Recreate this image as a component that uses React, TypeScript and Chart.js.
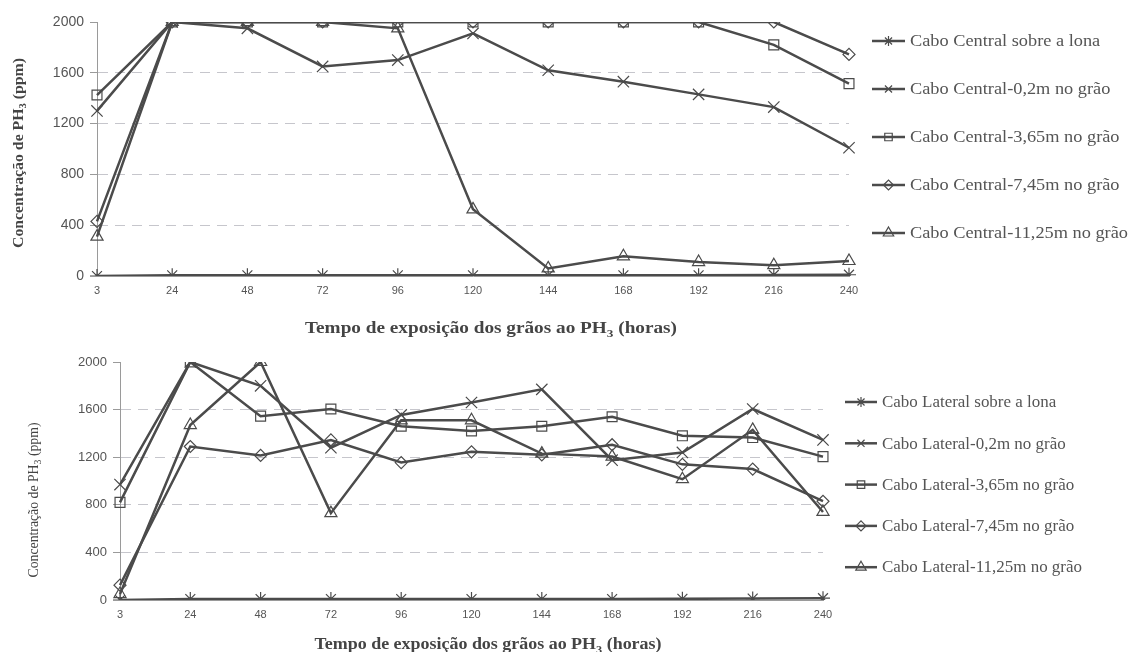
import React, { useEffect, useRef } from "react";
import { Chart, registerables } from "chart.js";

Chart.register(...registerables);

// ---------- data ----------
const hours = ["3", "24", "48", "72", "96", "120", "144", "168", "192", "216", "240"];

const centralLabels = [
  "Cabo Central sobre a lona",
  "Cabo Central-0,2m no grão",
  "Cabo Central-3,65m no grão",
  "Cabo Central-7,45m no grão",
  "Cabo Central-11,25m no grão",
];
const centralSobre = [0, 5, 5, 5, 5, 5, 5, 5, 5, 8, 10];
const central02 = [1300, 2000, 1950, 1650, 1700, 1910, 1620, 1530, 1430, 1330, 1010];
const central365 = [1425, 2000, 2000, 2000, 2000, 2000, 2000, 2000, 2000, 1820, 1515];
const central745 = [430, 2000, 2000, 2000, 2000, 2000, 2000, 2000, 2000, 2000, 1745];
const central1125 = [310, 2000, 2000, 2000, 1950, 525, 60, 155, 110, 85, 118];

const lateralLabels = [
  "Cabo Lateral sobre a lona",
  "Cabo Lateral-0,2m no grão",
  "Cabo Lateral-3,65m no grão",
  "Cabo Lateral-7,45m no grão",
  "Cabo Lateral-11,25m no grão",
];
const lateralSobre = [0, 8, 8, 8, 8, 8, 8, 8, 10, 12, 15];
const lateral02 = [970, 2000, 1800, 1280, 1555, 1660, 1770, 1175, 1240, 1605, 1345];
const lateral365 = [820, 2000, 1545, 1605, 1460, 1420, 1460, 1540, 1380, 1365, 1205];
const lateral745 = [125, 1290, 1215, 1345, 1155, 1245, 1220, 1305, 1140, 1100, 830];
const lateral1125 = [50, 1470, 2000, 730, 1510, 1510, 1230, 1205, 1015, 1430, 740];

const yMin = 0;
const yMax = 2000;
const yStep = 400;

const xTitleParts = [{ t: "Tempo de exposição dos grãos ao PH" }, { t: "3", sub: true }, { t: " (horas)" }];
const yTitleParts = [{ t: "Concentração de PH" }, { t: "3", sub: true }, { t: " (ppm)" }];

// ---------- styles ----------
const LINE = "#4b4b4b";
const TEXT = "#555555";
const SANS = '"Liberation Sans", Arial, sans-serif';
const SERIF = '"Liberation Serif", "Times New Roman", serif';
const pointStyles = ["star", "crossRot", "rect", "rectRot", "triangle"];
const pointRadii = [7, 8, 7, 6, 7];
const legendRadii = [5, 5, 5, 5, 6];

type Part = { t: string; sub?: boolean };

function drawParts(ctx: CanvasRenderingContext2D, parts: Part[], size: number, weight: string, targetWidth: number, baseY: number) {
  const fontFor = (p: Part) => `${weight} ${p.sub ? Math.round(size * 0.68) : size}px ${SERIF}`;
  let total = 0;
  const widths = parts.map((p) => {
    ctx.font = fontFor(p);
    const w = ctx.measureText(p.t).width;
    total += w;
    return w;
  });
  ctx.scale(targetWidth / total, 1);
  let x = -total / 2;
  ctx.textAlign = "left";
  ctx.textBaseline = "alphabetic";
  parts.forEach((p, i) => {
    ctx.font = fontFor(p);
    ctx.fillText(p.t, x, baseY + (p.sub ? size * 0.22 : 0));
    x += widths[i];
  });
}

function drawMarker(ctx: CanvasRenderingContext2D, style: string, x: number, y: number, r: number) {
  ctx.beginPath();
  const seg = (a: number) => {
    const c = Math.cos(a) * r;
    const s = Math.sin(a) * r;
    ctx.moveTo(x - c, y - s);
    ctx.lineTo(x + c, y + s);
  };
  if (style === "star") {
    [0, Math.PI / 4, Math.PI / 2, (3 * Math.PI) / 4].forEach(seg);
  } else if (style === "crossRot") {
    [Math.PI / 4, (3 * Math.PI) / 4].forEach(seg);
  } else if (style === "rect") {
    const s = r * 0.75;
    ctx.rect(x - s, y - s, 2 * s, 2 * s);
  } else if (style === "rectRot") {
    ctx.moveTo(x - r, y);
    ctx.lineTo(x, y - r);
    ctx.lineTo(x + r, y);
    ctx.lineTo(x, y + r);
    ctx.closePath();
  } else if (style === "triangle") {
    ctx.moveTo(x, y - r);
    ctx.lineTo(x + r * 0.866, y + r * 0.5);
    ctx.lineTo(x - r * 0.866, y + r * 0.5);
    ctx.closePath();
  }
  ctx.stroke();
}

type Decor = {
  xTitle: { cx: number; base: number; width: number; size: number };
  yTitle: { cx: number; cy: number; width: number; size: number; weight: string };
  legend: { x1: number; x2: number; tx: number; y0: number; dy: number; size: number; width: number; labels: string[] };
};

function makeDecor(d: Decor) {
  return {
    id: "decor",
    afterDraw(chart: any) {
      const ctx: CanvasRenderingContext2D = chart.ctx;
      // x title
      ctx.save();
      ctx.fillStyle = "#444";
      ctx.translate(d.xTitle.cx, 0);
      drawParts(ctx, xTitleParts, d.xTitle.size, "bold", d.xTitle.width, d.xTitle.base);
      ctx.restore();
      // y title
      ctx.save();
      ctx.fillStyle = "#444";
      ctx.translate(d.yTitle.cx, d.yTitle.cy);
      ctx.rotate(-Math.PI / 2);
      drawParts(ctx, yTitleParts, d.yTitle.size, d.yTitle.weight, d.yTitle.width, d.yTitle.size * 0.33);
      ctx.restore();
      // legend
      const L = d.legend;
      ctx.save();
      ctx.font = `${L.size}px ${SERIF}`;
      const longest = Math.max(...L.labels.map((s) => ctx.measureText(s).width));
      const sx = L.width / longest;
      L.labels.forEach((label, i) => {
        const y = L.y0 + i * L.dy;
        ctx.strokeStyle = LINE;
        ctx.lineWidth = 2.5;
        ctx.beginPath();
        ctx.moveTo(L.x1, y);
        ctx.lineTo(L.x2, y);
        ctx.stroke();
        ctx.lineWidth = 1.2;
        drawMarker(ctx, pointStyles[i], (L.x1 + L.x2) / 2, y, legendRadii[i]);
        ctx.save();
        ctx.fillStyle = TEXT;
        ctx.font = `${L.size}px ${SERIF}`;
        ctx.textAlign = "left";
        ctx.textBaseline = "middle";
        ctx.translate(L.tx, y);
        ctx.scale(sx, 1);
        ctx.fillText(label, 0, 1);
        ctx.restore();
      });
      ctx.restore();
    },
  };
}

type Panel = {
  height: number;
  series: number[][];
  labels: string[];
  yWidth: number;
  xHeight: number;
  padRight: number;
  yTickSize: number;
  decor: Decor;
};

function buildConfig(p: Panel): any {
  return {
    type: "line",
    data: {
      labels: hours,
      datasets: p.series.map((data, i) => ({
        label: p.labels[i],
        data,
        borderColor: LINE,
        borderWidth: 2.5,
        tension: 0,
        fill: false,
        pointStyle: pointStyles[i],
        pointRadius: pointRadii[i],
        pointHoverRadius: pointRadii[i],
        pointBorderColor: LINE,
        pointBackgroundColor: "rgba(0,0,0,0)",
        pointBorderWidth: 1.2,
      })),
    },
    options: {
      responsive: false,
      animation: false,
      devicePixelRatio: 1,
      layout: { padding: { left: 0, right: p.padRight, top: 22, bottom: 0 } },
      plugins: { legend: { display: false }, tooltip: { enabled: false }, title: { display: false } },
      scales: {
        x: {
          grid: { display: false, drawTicks: false },
          border: { display: true, color: "#9a9a9a", width: 1 },
          ticks: { font: { family: SANS, size: 11 }, color: TEXT, padding: 8, maxRotation: 0, autoSkip: false },
          afterFit: (s: any) => {
            s.height = p.xHeight;
          },
        },
        y: {
          min: yMin,
          max: yMax,
          ticks: {
            stepSize: yStep,
            font: { family: SANS, size: p.yTickSize },
            color: TEXT,
            padding: 6,
            callback: (v: any) => String(v),
          },
          grid: {
            color: (c: any) => (c.tick && (c.tick.value === yMin || c.tick.value === yMax) ? "rgba(0,0,0,0)" : "#c6c6cc"),
            lineWidth: 1,
            tickColor: "#9a9a9a",
            tickLength: 7,
            tickBorderDash: [],
          },
          border: { display: true, color: "#9a9a9a", width: 1, dash: [10, 7] },
          afterFit: (s: any) => {
            s.width = p.yWidth;
          },
        },
      },
    },
    plugins: [makeDecor(p.decor)],
  };
}

const topPanel: Panel = {
  height: 340,
  series: [centralSobre, central02, central365, central745, central1125],
  labels: centralLabels,
  yWidth: 97,
  xHeight: 64,
  padRight: 282,
  yTickSize: 14,
  decor: {
    xTitle: { cx: 491, base: 333, width: 372, size: 16 },
    yTitle: { cx: 18, cy: 153, width: 190, size: 15, weight: "bold" },
    legend: { x1: 872, x2: 905, tx: 910, y0: 41, dy: 48, size: 16, width: 218, labels: centralLabels },
  },
};

const bottomPanel: Panel = {
  height: 312,
  series: [lateralSobre, lateral02, lateral365, lateral745, lateral1125],
  labels: lateralLabels,
  yWidth: 120,
  xHeight: 52,
  padRight: 308,
  yTickSize: 13,
  decor: {
    xTitle: { cx: 488, base: 309, width: 347, size: 16 },
    yTitle: { cx: 33, cy: 160, width: 155, size: 14, weight: "normal" },
    legend: { x1: 845, x2: 877, tx: 882, y0: 62, dy: 41.3, size: 16, width: 200, labels: lateralLabels },
  },
};

function PanelChart({ panel, top }: { panel: Panel; top: number }) {
  const ref = useRef<HTMLCanvasElement>(null);
  useEffect(() => {
    if (!ref.current) return;
    const chart = new Chart(ref.current, buildConfig(panel));
    return () => chart.destroy();
  }, [panel]);
  return (
    <canvas
      ref={ref}
      width={1131}
      height={panel.height}
      style={{ position: "absolute", left: 0, top, width: 1131, height: panel.height, display: "block" }}
    />
  );
}

export default function App() {
  return (
    <div style={{ position: "absolute", left: 0, top: 0, width: 1131, height: 652, background: "#ffffff", overflow: "hidden" }}>
      <PanelChart panel={topPanel} top={0} />
      <PanelChart panel={bottomPanel} top={340} />
    </div>
  );
}
